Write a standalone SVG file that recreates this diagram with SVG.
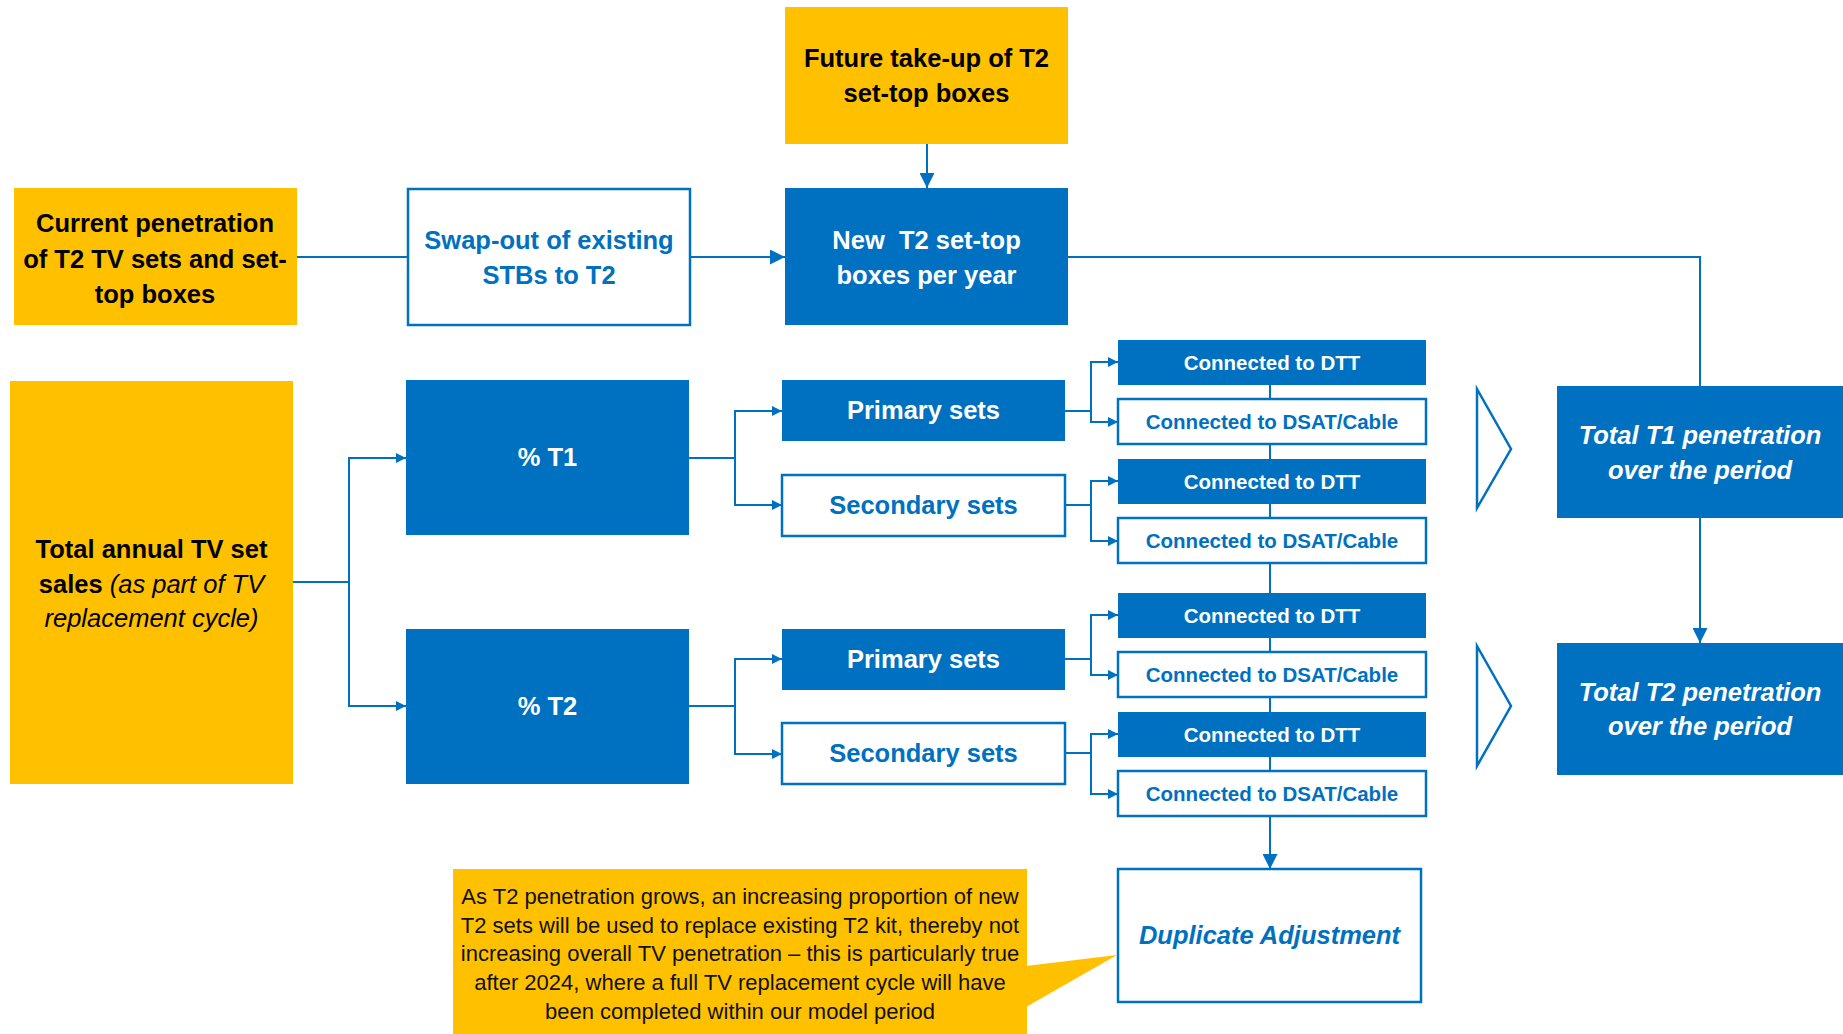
<svg xmlns="http://www.w3.org/2000/svg" width="1843" height="1034" viewBox="0 0 1843 1034">
<style>
  .yel { fill: #FFC000; }
  .blu { fill: #0070C0; }
  .out { fill: #FFFFFF; stroke: #0070C0; stroke-width: 2.5; }
  .t { font-family: "Liberation Sans", Arial, sans-serif; text-anchor: middle; }
  .big { font-size: 25.5px; font-weight: bold; }
  .mid { font-size: 20.5px; font-weight: bold; }
  .note { font-size: 22px; fill: #111111; }
  .k { fill: #000000; }
  .w { fill: #FFFFFF; }
  .b { fill: #0070C0; }
  .it { font-style: italic; }
  .reg { font-weight: normal; }
  .con { fill: none; stroke: #0070C0; stroke-width: 2; }
  .chev { fill: #FFFFFF; stroke: #0070C0; stroke-width: 2.5; }
</style>
<defs>
  <marker id="ab" markerUnits="userSpaceOnUse" viewBox="0 0 15 15" refX="15" refY="7.5" markerWidth="15" markerHeight="15" orient="auto">
    <path d="M0,0 L15,7.5 L0,15 Z" fill="#0070C0"/>
  </marker>
  <marker id="as" markerUnits="userSpaceOnUse" viewBox="0 0 10 10" refX="10" refY="5" markerWidth="10" markerHeight="10" orient="auto">
    <path d="M0,0 L10,5 L0,10 Z" fill="#0070C0"/>
  </marker>
</defs>
<rect width="1843" height="1034" fill="#FFFFFF"/>

<g id="connectors">
  <path class="con" d="M297,257 H408"/>
  <path class="con" d="M690,257 H785" marker-end="url(#ab)"/>
  <path class="con" d="M927,144 V188" marker-end="url(#ab)"/>
  <path class="con" d="M1068,257 H1700 V386"/>
  <path class="con" d="M1700,518 V643" marker-end="url(#ab)"/>
  <path class="con" d="M1270,385 V869" marker-end="url(#ab)"/>
  <path class="con" d="M293,582 H349 V458 H406" marker-end="url(#as)"/>
  <path class="con" d="M349,582 V706 H406" marker-end="url(#as)"/>
  <path class="con" d="M689,458 H735 V411 H782" marker-end="url(#as)"/>
  <path class="con" d="M735,458 V505 H782" marker-end="url(#as)"/>
  <path class="con" d="M689,706 H735 V659 H782" marker-end="url(#as)"/>
  <path class="con" d="M735,706 V754 H782" marker-end="url(#as)"/>
  <path class="con" d="M1065,411 H1091 V362 H1118" marker-end="url(#as)"/>
  <path class="con" d="M1091,411 V422 H1118" marker-end="url(#as)"/>
  <path class="con" d="M1065,505 H1091 V481 H1118" marker-end="url(#as)"/>
  <path class="con" d="M1091,505 V541 H1118" marker-end="url(#as)"/>
  <path class="con" d="M1065,659 H1091 V615 H1118" marker-end="url(#as)"/>
  <path class="con" d="M1091,659 V675 H1118" marker-end="url(#as)"/>
  <path class="con" d="M1065,753 H1091 V734 H1118" marker-end="url(#as)"/>
  <path class="con" d="M1091,753 V794 H1118" marker-end="url(#as)"/>
</g>

<g id="future">
  <rect class="yel" x="785" y="7" width="283" height="137"/>
  <text class="t big k" x="926.5" y="67">Future take-up of T2</text>
  <text class="t big k" x="926.5" y="102">set-top boxes</text>
</g>
<g id="current">
  <rect class="yel" x="14" y="188" width="283" height="137"/>
  <text class="t big k" x="155" y="232">Current penetration</text>
  <text class="t big k" x="155" y="268">of T2 TV sets and set-</text>
  <text class="t big k" x="155" y="303">top boxes</text>
</g>
<g id="swapout">
  <rect class="out" x="408" y="189" width="282" height="136"/>
  <text class="t big b" x="549" y="249">Swap-out of existing</text>
  <text class="t big b" x="549" y="284">STBs to T2</text>
</g>
<g id="newt2">
  <rect class="blu" x="785" y="188" width="283" height="137"/>
  <text class="t big w" x="926.5" y="249" style="white-space:pre">New  T2 set-top</text>
  <text class="t big w" x="926.5" y="284">boxes per year</text>
</g>
<g id="total-annual">
  <rect class="yel" x="10" y="381" width="283" height="403"/>
  <text class="t big k" x="151.5" y="558">Total annual TV set</text>
  <text class="t big k" x="151.5" y="593">sales <tspan class="it reg">(as part of TV</tspan></text>
  <text class="t big k" x="151.5" y="627"><tspan class="it reg">replacement cycle)</tspan></text>
</g>
<g id="pct-t1">
  <rect class="blu" x="406" y="380" width="283" height="155"/>
  <text class="t big w" x="547.5" y="466">% T1</text>
</g>
<g id="pct-t2">
  <rect class="blu" x="406" y="629" width="283" height="155"/>
  <text class="t big w" x="547.5" y="715">% T2</text>
</g>
<g id="primary-t1">
  <rect class="blu" x="782" y="380" width="283" height="61"/>
  <text class="t big w" x="923.5" y="419">Primary sets</text>
</g>
<g id="secondary-t1">
  <rect class="out" x="782" y="475" width="283" height="61"/>
  <text class="t big b" x="923.5" y="514">Secondary sets</text>
</g>
<g id="primary-t2">
  <rect class="blu" x="782" y="629" width="283" height="61"/>
  <text class="t big w" x="923.5" y="668">Primary sets</text>
</g>
<g id="secondary-t2">
  <rect class="out" x="782" y="723" width="283" height="61"/>
  <text class="t big b" x="923.5" y="762">Secondary sets</text>
</g>

<g id="dtt-1"><rect class="blu" x="1118" y="340" width="308" height="45"/><text class="t mid w" x="1272" y="370">Connected to DTT</text></g>
<g id="dsat-1"><rect class="out" x="1118" y="399" width="308" height="45"/><text class="t mid b" x="1272" y="429">Connected to DSAT/Cable</text></g>
<g id="dtt-2"><rect class="blu" x="1118" y="459" width="308" height="45"/><text class="t mid w" x="1272" y="489">Connected to DTT</text></g>
<g id="dsat-2"><rect class="out" x="1118" y="518" width="308" height="45"/><text class="t mid b" x="1272" y="548">Connected to DSAT/Cable</text></g>
<g id="dtt-3"><rect class="blu" x="1118" y="593" width="308" height="45"/><text class="t mid w" x="1272" y="623">Connected to DTT</text></g>
<g id="dsat-3"><rect class="out" x="1118" y="652" width="308" height="45"/><text class="t mid b" x="1272" y="682">Connected to DSAT/Cable</text></g>
<g id="dtt-4"><rect class="blu" x="1118" y="712" width="308" height="45"/><text class="t mid w" x="1272" y="742">Connected to DTT</text></g>
<g id="dsat-4"><rect class="out" x="1118" y="771" width="308" height="45"/><text class="t mid b" x="1272" y="801">Connected to DSAT/Cable</text></g>

<g id="chevron-1"><path class="chev" d="M1477,389 L1511,449 L1477,508 Z"/></g>
<g id="chevron-2"><path class="chev" d="M1477,646 L1511,706 L1477,766 Z"/></g>

<g id="total-t1">
  <rect class="blu" x="1557" y="386" width="300" height="132"/>
  <text class="t big w it" x="1700" y="444">Total T1 penetration</text>
  <text class="t big w it" x="1700" y="479">over the period</text>
</g>
<g id="total-t2">
  <rect class="blu" x="1557" y="643" width="300" height="132"/>
  <text class="t big w it" x="1700" y="701">Total T2 penetration</text>
  <text class="t big w it" x="1700" y="735">over the period</text>
</g>

<g id="duplicate">
  <rect class="out" x="1118" y="869" width="303" height="133"/>
  <text class="t big b it" x="1269.5" y="944">Duplicate Adjustment</text>
</g>

<g id="callout">
  <rect class="yel" x="453" y="869" width="574" height="175"/>
  <path class="yel" d="M1026,966 L1117,955 L1026,1007 Z"/>
  <text class="t note" x="740" y="904">As T2 penetration grows, an increasing proportion of new</text>
  <text class="t note" x="740" y="933">T2 sets will be used to replace existing T2 kit, thereby not</text>
  <text class="t note" x="740" y="961">increasing overall TV penetration – this is particularly true</text>
  <text class="t note" x="740" y="990">after 2024, where a full TV replacement cycle will have</text>
  <text class="t note" x="740" y="1019">been completed within our model period</text>
</g>
</svg>
